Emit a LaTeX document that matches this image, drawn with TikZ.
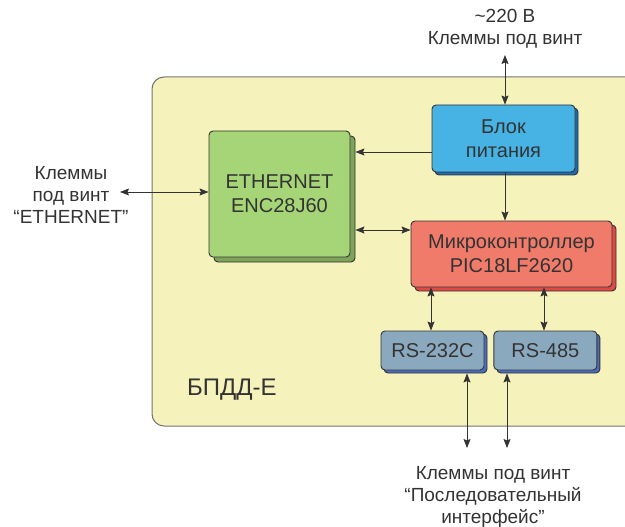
\documentclass[tikz,border=0pt]{standalone}
\usepackage{fontspec}
\setmainfont{Liberation Sans}
\usetikzlibrary{shadows, arrows.meta, positioning}
\definecolor{bgyellow}{HTML}{F6F2BC}
\definecolor{pwrblue}{HTML}{46B3E4}
\definecolor{pwrshadow}{HTML}{1E6AB0}
\definecolor{ethgreen}{HTML}{A6D577}
\definecolor{ethshadow}{HTML}{7EA45A}
\definecolor{mcured}{HTML}{F07B6A}
\definecolor{mcushadow}{HTML}{E04A45}
\definecolor{rsgray}{HTML}{8BA9BE}
\definecolor{rsshadow}{HTML}{4A6BBE}
\definecolor{txtgray}{HTML}{333333}
\tikzset{
  block/.style = {rectangle, draw=txtgray, line width=0.9pt, rounded corners=4pt, align=center,
                  text=txtgray, font=\fontsize{20}{24}\selectfont, inner sep=0pt},
  powerblock/.style = {block, fill=pwrblue, minimum width=143pt, minimum height=67pt,
                  copy shadow={shadow xshift=3pt, shadow yshift=-3pt, fill=pwrshadow, draw=txtgray}},
  ethblock/.style = {block, fill=ethgreen, minimum width=141pt, minimum height=126pt,
                  copy shadow={shadow xshift=5pt, shadow yshift=-5pt, fill=ethshadow, draw=txtgray}},
  mcublock/.style = {block, fill=mcured, minimum width=201pt, minimum height=66pt,
                  copy shadow={shadow xshift=4pt, shadow yshift=-4pt, fill=mcushadow, draw=txtgray}},
  rsblock/.style = {block, fill=rsgray, minimum width=103pt, minimum height=39pt,
                  copy shadow={shadow xshift=3pt, shadow yshift=-3pt, fill=rsshadow, draw=txtgray}},
  terminal/.style = {align=center, text=txtgray, font=\fontsize{19}{22}\selectfont, inner sep=0pt},
  arrow/.style = {-{Stealth[length=9pt, width=7pt, inset=1.5pt]}, line width=0.8pt, draw=txtgray},
  biarrow/.style = {{Stealth[length=9pt, width=7pt, inset=1.5pt]}-{Stealth[length=9pt, width=7pt, inset=1.5pt]},
                  line width=0.8pt, draw=txtgray}
}
\begin{document}
\begin{tikzpicture}[x=1pt, y=-1pt]
    \useasboundingbox (0,0) rectangle (625,527);

    % device frame
    \draw[fill=bgyellow, draw=gray!90!black, line width=1pt, rounded corners=12pt]
        (152,77) rectangle (660,426);
    \node (device) [text=txtgray, font=\fontsize{24}{28}\selectfont] at (232,390) {БПДД-Е};

    % nodes
    \node (power) [powerblock] at (503.5,138.5) {Блок\\питания};
    \node (eth) [ethblock] at (279.5,194) {ETHERNET\\ENC28J60};
    \node (mcu) [mcublock] at (511.5,254) {Микроконтроллер\\PIC18LF2620};
    \node (rs232) [rsblock] at (432.5,350.5) {RS-232C};
    \node (rs485) [rsblock, right=9pt of rs232] {RS-485};

    % terminals
    \node (pwr_label) [terminal] at (505,29) {\textasciitilde220 В\\Клеммы под винт};
    \node (eth_label) [terminal] at (71,195) {Клеммы\\под винт\\“ETHERNET”};
    \node (serial_label) [terminal] at (493,497) {Клеммы под винт\\“Последовательный\\интерфейс”};
    \coordinate (pwr_term) at (505,55);
    \coordinate (eth_term) at (120,192);
    \coordinate (rs232_term) at (467,448);
    \coordinate (rs485_term) at (507,448);

    % edges
    \draw [biarrow] (pwr_term) -- (pwr_term |- power.north);
    \draw [arrow] (power.west |- 0,152) -- ([xshift=5pt]eth.east |- 0,152);
    \draw [arrow] (power.south -| 505,0) -- (mcu.north -| 505,0);
    \draw [biarrow] ([xshift=5pt]eth.east |- 0,230) -- (mcu.west |- 0,230);
    \draw [biarrow] (eth_term) -- (eth.west |- eth_term);
    \draw [biarrow] (mcu.south -| 431,0) -- (rs232.north -| 431,0);
    \draw [biarrow] (mcu.south -| 544,0) -- (rs485.north -| 544,0);
    \draw [biarrow] ([yshift=-3pt]rs232.south -| rs232_term) -- (rs232_term);
    \draw [biarrow] ([yshift=-3pt]rs485.south -| rs485_term) -- (rs485_term);

\end{tikzpicture}
\end{document}
